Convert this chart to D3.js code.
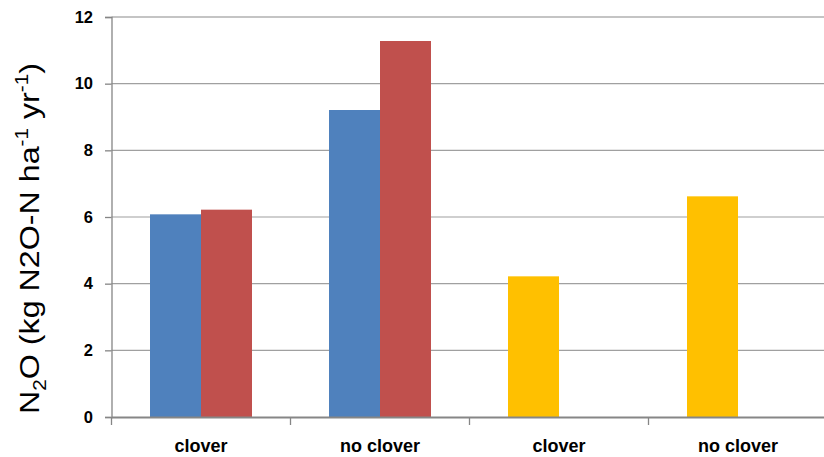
<!DOCTYPE html>
<html><head><meta charset="utf-8">
<script src="https://cdn.jsdelivr.net/npm/d3@7"></script>
<style>body{margin:0;background:#fff;overflow:hidden}</style></head>
<body><svg id="c" width="824" height="457"></svg>
<script>
// ---- data ----
const categories = ["clover", "no clover", "clover", "no clover"];
const seriesA = [6.08, 9.21, 4.22, 6.62];     // first slot in each group
const seriesB = [6.22, 11.28, null, null];    // second slot in each group
const yTickValues = [0, 2, 4, 6, 8, 10, 12];
// ---- styles ----
const colorA = ["#4F81BD", "#4F81BD", "#FFC000", "#FFC000"];
const colorB = "#C0504D";

const svg = d3.select("#c");
const font = "Arial, 'Liberation Sans', sans-serif";

const x = d3.scaleBand().domain(d3.range(categories.length)).range([111.5, 827.5]).paddingInner(0).paddingOuter(0);
const inner = d3.scaleBand().domain([0, 1]).range([0, x.bandwidth()]).paddingInner(0).paddingOuter(0.755);
const y = d3.scaleLinear().domain([0, 12]).range([417, 17]);

// gridlines
svg.append("g").selectAll("line").data(yTickValues.filter(v => v > 0)).join("line")
  .attr("x1", 111.5).attr("x2", 824)
  .attr("y1", d => y(d)).attr("y2", d => y(d))
  .attr("stroke", d => d === 12 ? "#8a8a8a" : "#a0a0a0").attr("stroke-width", 1.2);

// bars
const barsA = categories.map((c, i) => ({i, v: seriesA[i], slot: 0, color: colorA[i]}));
const barsB = categories.map((c, i) => ({i, v: seriesB[i], slot: 1, color: colorB}));
svg.append("g").selectAll("rect").data(barsA.concat(barsB).filter(d => d.v != null)).join("rect")
  .attr("x", d => x(d.i) + inner(d.slot))
  .attr("width", inner.bandwidth())
  .attr("y", d => y(d.v))
  .attr("height", d => y(0) - y(d.v))
  .attr("fill", d => d.color);

// y axis
const yAxis = d3.axisLeft(y).tickValues(yTickValues).tickSize(6.5).tickPadding(12).tickFormat(d3.format("d"));
const gy = svg.append("g").attr("transform", "translate(111.5,0)").call(yAxis);
gy.select(".domain").attr("stroke", "#868686").attr("stroke-width", 1.3);
gy.selectAll(".tick line").attr("stroke", "#868686").attr("stroke-width", 1.3);
gy.selectAll(".tick text").attr("font-family", font).attr("font-size", 16.5).attr("font-weight", "bold").attr("fill", "#000");

// x axis
const xAxis = d3.axisBottom(x).tickSize(0).tickPadding(0).tickFormat(i => categories[i]);
const gx = svg.append("g").attr("transform", "translate(0,417)").call(xAxis);
gx.select(".domain").attr("stroke", "#868686").attr("stroke-width", 1.8);
gx.selectAll(".tick text").attr("font-family", font).attr("font-size", 18).attr("font-weight", "bold")
  .attr("fill", "#000").attr("y", 35).attr("dy", 0);
// category boundary ticks
gx.append("g").selectAll("line").data(d3.range(categories.length + 1)).join("line")
  .attr("x1", i => x.range()[0] + i * x.step()).attr("x2", i => x.range()[0] + i * x.step())
  .attr("y1", 0).attr("y2", 8).attr("stroke", "#868686").attr("stroke-width", 1.3);

// y title
const title = svg.append("text").attr("font-family", font).attr("font-size", 28).attr("fill", "#000")
  .attr("text-anchor", "middle");
title.append("tspan").text("N");
title.append("tspan").attr("font-size", 18).attr("dy", 7).text("2");
title.append("tspan").attr("dy", -7).text("O (kg N2O-N ha");
title.append("tspan").attr("font-size", 18).attr("dy", -11).text("-1");
title.append("tspan").attr("dy", 11).text(" yr");
title.append("tspan").attr("font-size", 18).attr("dy", -11).text("-1");
title.append("tspan").attr("dy", 11).text(")");
const bb = title.node().getBBox();
const sx = 351 / bb.width;
title.attr("transform", `translate(39,238.5) rotate(-90) scale(${sx},1)`);
</script>
</body></html>
